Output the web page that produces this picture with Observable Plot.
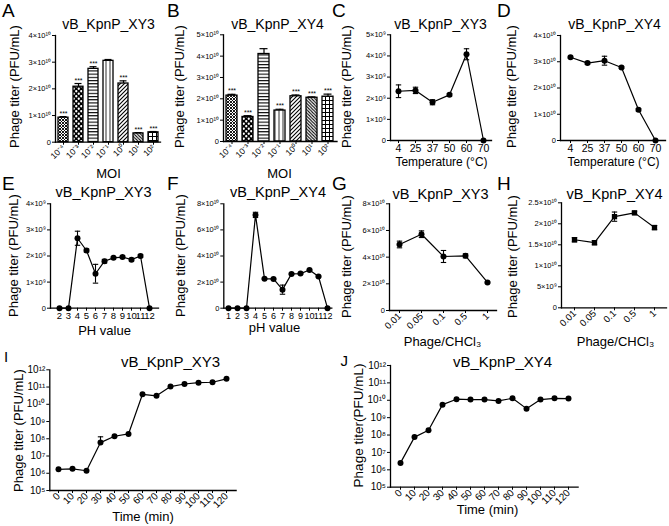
<!DOCTYPE html>
<html><head><meta charset="utf-8">
<script src="https://cdn.jsdelivr.net/npm/d3@7"></script>
<script src="https://cdn.jsdelivr.net/npm/@observablehq/plot@0.6"></script>
<style>
body{margin:0;background:#fff;}
#fig{position:relative;width:669px;height:526px;overflow:hidden;background:#fff;}
</style></head><body>
<svg width="0" height="0" style="position:absolute;left:0;top:0">
<defs>
<pattern id="pat0" patternUnits="userSpaceOnUse" width="3" height="3"><rect width="3" height="3" fill="#fff"/><path d="M0,0L3,3M3,0L0,3" stroke="#000" stroke-width="0.9"/></pattern>
<pattern id="pat1" patternUnits="userSpaceOnUse" width="5" height="5"><rect width="5" height="5" fill="#000"/><circle cx="1.25" cy="1.25" r="1.15" fill="#fff"/><circle cx="3.75" cy="3.75" r="1.15" fill="#fff"/></pattern>
<pattern id="pat2" patternUnits="userSpaceOnUse" width="4" height="3.2"><rect width="4" height="3.2" fill="#fff"/><rect width="4" height="1.1" fill="#000"/></pattern>
<pattern id="pat3" patternUnits="userSpaceOnUse" width="4" height="4"><rect width="4" height="4" fill="#fff"/><rect x="1.6" width="0.8" height="4" fill="#000"/></pattern>
<pattern id="pat4" patternUnits="userSpaceOnUse" width="4" height="4"><rect width="4" height="4" fill="#fff"/><path d="M0,4L4,0M-1,1L1,-1M3,5L5,3" stroke="#000" stroke-width="1.1"/></pattern>
<pattern id="pat5" patternUnits="userSpaceOnUse" width="3.2" height="3.2"><rect width="3.2" height="3.2" fill="#fff"/><path d="M0,0L3.2,3.2M-1,2.2L1,4.2M2.2,-1L4.2,1" stroke="#000" stroke-width="1"/></pattern>
<pattern id="pat6" patternUnits="userSpaceOnUse" width="4" height="4"><rect width="4" height="4" fill="#fff"/><path d="M0,0.5H4M0.5,0V4" stroke="#000" stroke-width="1"/></pattern>
</defs></svg>
<div id="fig"></div>
<script>
// ---------- data ----------
const moiExp = [-4, -3, -2, -1, 0, 1, 2];
const titerA = [0.92e10, 2.08e10, 2.75e10, 3.05e10, 2.2e10, 0.33e10, 0.37e10];
const errA   = [0.04e10, 0.12e10, 0.08e10, 0.05e10, 0.1e10, 0.03e10, 0.03e10];
const sigA   = ["***", "***", "***", "", "***", "***", "***"];
const titerB = [2.15e10, 1.15e10, 4.1e10, 1.45e10, 2.12e10, 2.05e10, 2.1e10];
const errB   = [0.06e10, 0.06e10, 0.25e10, 0.06e10, 0.06e10, 0.04e10, 0.12e10];
const sigB   = ["***", "***", "", "***", "***", "***", "***"];

const temps  = [4, 25, 37, 50, 60, 70];
const titerC = [2.33e9, 2.37e9, 1.81e9, 2.16e9, 4.08e9, 0];
const errC   = [0.3e9, 0.15e9, 0.12e9, 0.06e9, 0.26e9, 0];
const titerD = [3.17e10, 2.95e10, 3.04e10, 2.78e10, 1.17e10, 0];
const errD   = [0.04e10, 0.05e10, 0.17e10, 0.04e10, 0.05e10, 0];

const phE    = [2, 3, 4, 5, 6, 7, 8, 9, 10, 11, 12];
const titerE = [0, 0, 2.68e9, 2.21e9, 1.32e9, 1.8e9, 1.93e9, 1.96e9, 1.86e9, 2.0e9, 0];
const errE   = [0, 0, 0.27e9, 0.06e9, 0.36e9, 0.07e9, 0.04e9, 0.04e9, 0.05e9, 0.06e9, 0];
const phF    = [1, 2, 3, 4, 5, 6, 7, 8, 9, 10, 11, 12];
const titerF = [0, 0, 0, 7.15e10, 2.25e10, 2.24e10, 1.42e10, 2.63e10, 2.65e10, 2.93e10, 2.43e10, 0];
const errF   = [0, 0, 0, 0.2e10, 0.05e10, 0.05e10, 0.35e10, 0.05e10, 0.05e10, 0.05e10, 0.05e10, 0];

const ratios = ["0.01", "0.05", "0.1", "0.5", "1"];
const titerG = [4.95e10, 5.72e10, 4.05e10, 4.1e10, 2.1e10];
const errG   = [0.25e10, 0.25e10, 0.45e10, 0.15e10, 0.05e10];
const titerH = [1.62e10, 1.55e10, 2.17e10, 2.26e10, 1.91e10];
const errH   = [0.05e10, 0.05e10, 0.11e10, 0.04e10, 0.05e10];

const times  = [0, 10, 20, 30, 40, 50, 60, 70, 80, 90, 100, 110, 120];
const titerI = [1.7e6, 1.8e6, 1.4e6, 6.0e7, 1.4e8, 1.9e8, 3.8e10, 3.1e10, 1.07e11, 1.5e11, 1.8e11, 1.9e11, 3.0e11];
const errI   = [0, 0, 0, 7e7, 0, 0, 0, 0, 0, 0, 0, 0, 0];
const titerJ = [2.5e6, 7.6e7, 1.9e8, 5.6e9, 1.15e10, 1.1e10, 1.1e10, 9.2e9, 1.3e10, 3.3e9, 1.1e10, 1.3e10, 1.25e10];
const errJ   = [0, 0, 0, 0, 0, 0, 0, 0, 0, 0, 0, 0, 0];

const ticksA = [0, 1e10, 2e10, 3e10, 4e10];
const ticksB = [0, 1e10, 2e10, 3e10, 4e10, 5e10];
const ticksC = [0, 1e9, 2e9, 3e9, 4e9, 5e9];
const ticksD = [0, 1e10, 2e10, 3e10, 4e10];
const ticksE = [0, 1e9, 2e9, 3e9, 4e9];
const ticksF = [0, 2e10, 4e10, 6e10, 8e10];
const ticksG = [0, 2e10, 4e10, 6e10, 8e10];
const ticksH = [0, 5e9, 1e10, 1.5e10, 2e10, 2.5e10];
const ticksLog = [1e5, 1e6, 1e7, 1e8, 1e9, 1e10, 1e11, 1e12];

// ---------- helpers ----------
const FONT = '"Liberation Sans", Arial, Helvetica, sans-serif';
const SUP = {"0":"⁰","1":"¹","2":"²","3":"³","4":"⁴","5":"⁵","6":"⁶","7":"⁷","8":"⁸","9":"⁹","-":"⁻"};
const sup = s => String(s).split("").map(c => SUP[c] ?? c).join("");
function sci(v) {
  if (v === 0) return "0";
  const e = Math.floor(Math.log10(v) + 1e-9);
  const m = +(v / 10 ** e).toFixed(2);
  return `${m}×10${sup(e)}`;
}
const logFmt = v => "10" + sup(Math.round(Math.log10(v)));
const T = (s, x, y, size, o = {}) => ({s, x, y, size, ...o});
const fig = document.getElementById("fig");
// horizontal cap symbol for error bars
const capSymbol = {draw(ctx, size) { const w = Math.sqrt(size / Math.PI); ctx.moveTo(-w, 0); ctx.lineTo(w, 0); }};

function panel(g, scales, marks, texts) {
  const marginLeft = g.ax - g.left, marginRight = g.left + g.w - g.xEnd;
  const marginTop = g.yTop - g.top, marginBottom = g.top + g.h - g.y0;
  const tmarks = texts.map(t => Plot.text([t.s], {
    frameAnchor: "top-left", dx: t.x - g.ax, dy: t.y - g.yTop,
    fontSize: t.size, textAnchor: t.anchor ?? "middle", lineAnchor: t.la ?? "bottom",
    rotate: t.rotate ?? 0, fill: "black"
  }));
  const svg = Plot.plot({
    width: g.w, height: g.h, marginLeft, marginRight, marginTop, marginBottom,
    style: {background: "transparent", overflow: "visible", fontFamily: FONT, color: "black"},
    ...scales,
    marks: [
      ...marks,
      Plot.frame({anchor: "left", strokeWidth: 1.3}),
      Plot.frame({anchor: "bottom", strokeWidth: 1.3}),
      ...tmarks
    ]
  });
  svg.style.position = "absolute";
  svg.style.left = g.left + "px";
  svg.style.top = g.top + "px";
  fig.appendChild(svg);
}

function barPanel(g, exps, vals, errs, sig, ticks, ymax, texts) {
  const data = exps.map((e, i) => ({e, v: vals[i], err: errs[i], s: sig[i], i}));
  panel(g, {
    x: {type: "band", domain: exps, paddingInner: 0.34, paddingOuter: 0.1},
    y: {domain: [0, ymax]},
    color: {type: "identity"}
  }, [
    Plot.barY(data, {x: "e", y: "v", fill: d => `url(#pat${d.i})`, stroke: "black", strokeWidth: 1.3}),
    Plot.ruleX(data, {x: "e", y1: "v", y2: d => d.v + d.err, strokeWidth: 1.2}),
    Plot.tickY(data, {x: "e", y: d => d.v + d.err, insetLeft: 1.5, insetRight: 1.5, strokeWidth: 1.2}),
    Plot.text(data, {x: "e", y: d => d.v + d.err, text: "s", dy: -1, fontSize: 7, lineAnchor: "bottom"}),
    Plot.axisY({ticks, tickFormat: sci, tickSize: 3, tickPadding: 1.5, fontSize: 7.5, label: null}),
    Plot.axisX({tickFormat: e => "10" + sup(e), tickRotate: -45, tickSize: 3, tickPadding: 1, fontSize: 8.5, label: null})
  ], texts);
}

function linePanel(g, xs, vals, errs, o, texts) {
  const data = xs.map((x, i) => ({x, v: vals[i], err: errs[i]}));
  const ed = data.filter(d => d.err > 0);
  const lo = d => o.upperOnly ? d.v : d.v - d.err;
  const marks = [
    Plot.line(data, {x: "x", y: "v", strokeWidth: 1.2}),
    Plot.ruleX(ed, {x: "x", y1: lo, y2: d => d.v + d.err, strokeWidth: 1.1}),
    Plot.dot(ed, {x: "x", y: d => d.v + d.err, r: 2.7, symbol: capSymbol, stroke: "black", strokeWidth: 1.1})
  ];
  if (!o.upperOnly) marks.push(Plot.dot(ed, {x: "x", y: lo, r: 2.7, symbol: capSymbol, stroke: "black", strokeWidth: 1.1}));
  marks.push(
    Plot.dot(data, {x: "x", y: "v", r: o.r ?? 3, fill: "black", symbol: o.symbol ?? "circle"}),
    Plot.axisY({ticks: o.ticks, tickFormat: o.log ? logFmt : sci, tickSize: 3, tickPadding: 1.5, fontSize: o.log ? 10 : 7.5, label: null}),
    Plot.axisX({tickRotate: o.rotate ? -45 : 0, tickSize: 3, tickPadding: o.rotate ? 1 : 1.5, fontSize: o.xFont ?? 10.5, label: null})
  );
  panel(g, {
    x: {type: "point", domain: xs, padding: o.padding},
    y: o.log ? {type: "log", domain: [1e5, 1e12]} : {domain: [0, o.ymax]}
  }, marks, texts);
}

// ---------- panels ----------
const YL = "Phage titer (PFU/mL)";

barPanel({left: 0, top: 0, w: 170, h: 180, ax: 55, xEnd: 160, yTop: 35, y0: 141.7},
  moiExp, titerA, errA, sigA, ticksA, 4e10, [
  T("A", 1.5, 16.5, 19, {anchor: "start"}),
  T("vB_KpnP_XY3", 108, 28.5, 14),
  T(YL, 14, 86, 13, {rotate: -90, la: "middle"}),
  T("MOI", 108, 177.5, 13)
]);

barPanel({left: 165, top: 0, w: 172, h: 180, ax: 223, xEnd: 336.5, yTop: 34.3, y0: 141},
  moiExp, titerB, errB, sigB, ticksB, 5e10, [
  T("B", 166.5, 16.5, 19, {anchor: "start"}),
  T("vB_KpnP_XY4", 277, 28.5, 14),
  T(YL, 179, 86, 13, {rotate: -90, la: "middle"}),
  T("MOI", 279, 177.5, 13)
]);

linePanel({left: 330, top: 0, w: 170, h: 180, ax: 390, xEnd: 491, yTop: 34.3, y0: 140},
  temps, titerC, errC, {padding: 0.4, ymax: 5e9, ticks: ticksC}, [
  T("C", 331.5, 16.5, 19, {anchor: "start"}),
  T("vB_KpnP_XY3", 440, 28.5, 14),
  T(YL, 346, 86, 13, {rotate: -90, la: "middle"}),
  T("Temperature (°C)", 441, 165, 12)
]);

linePanel({left: 495, top: 0, w: 174, h: 180, ax: 560, xEnd: 665, yTop: 35, y0: 140},
  temps, titerD, errD, {padding: 0.45, ymax: 4e10, ticks: ticksD}, [
  T("D", 496.5, 16.5, 19, {anchor: "start"}),
  T("vB_KpnP_XY4", 614, 28.5, 14),
  T(YL, 511.5, 86, 13, {rotate: -90, la: "middle"}),
  T("Temperature (°C)", 613, 165, 12)
]);

linePanel({left: 0, top: 170, w: 170, h: 170, ax: 50, xEnd: 158, yTop: 203.3, y0: 307.7},
  phE, titerE, errE, {padding: 0.63, ymax: 4e9, ticks: ticksE, xFont: 9.5}, [
  T("E", 1.5, 189.5, 19, {anchor: "start"}),
  T("vB_KpnP_XY3", 103, 196.7, 14.5),
  T(YL, 13.5, 255, 13, {rotate: -90, la: "middle"}),
  T("PH value", 104, 334, 13)
]);

linePanel({left: 165, top: 170, w: 170, h: 170, ax: 223.3, xEnd: 331.3, yTop: 203.3, y0: 307.7},
  phF, titerF, errF, {padding: 0.5, ymax: 8e10, ticks: ticksF, xFont: 9}, [
  T("F", 166.5, 189.5, 19, {anchor: "start"}),
  T("vB_KpnP_XY4", 277.5, 196.7, 14.5),
  T(YL, 180.5, 255, 13, {rotate: -90, la: "middle"}),
  T("pH value", 274, 331, 13)
]);

linePanel({left: 330, top: 170, w: 170, h: 180, ax: 389, xEnd: 496, yTop: 203.3, y0: 310},
  ratios, titerG, errG, {padding: 0.4, ymax: 8e10, ticks: ticksG, rotate: true, xFont: 9.5}, [
  T("G", 331.5, 189.5, 19, {anchor: "start"}),
  T("vB_KpnP_XY3", 440, 198, 14.5),
  T(YL, 346, 256, 13, {rotate: -90, la: "middle"}),
  T("Phage/CHCl₃", 442, 345, 13)
]);

linePanel({left: 495, top: 170, w: 174, h: 180, ax: 561, xEnd: 666, yTop: 202.3, y0: 307.3},
  ratios, titerH, errH, {padding: 0.55, ymax: 2.5e10, ticks: ticksH, rotate: true, xFont: 9.5, symbol: "square", r: 3}, [
  T("H", 496.5, 189.5, 19, {anchor: "start"}),
  T("vB_KpnP_XY4", 614, 198, 14.5),
  T(YL, 512, 256, 13, {rotate: -90, la: "middle"}),
  T("Phage/CHCl₃", 615, 345, 13)
]);

linePanel({left: 0, top: 340, w: 335, h: 186, ax: 49.3, xEnd: 235.6, yTop: 369.3, y0: 490},
  times, titerI, errI, {padding: 0.64, log: true, ticks: ticksLog, rotate: true, xFont: 10, upperOnly: true}, [
  T("I", 3.5, 361, 15, {anchor: "start"}),
  T("vB_KpnP_XY3", 170, 366, 15),
  T(YL, 18.5, 430, 13, {rotate: -90, la: "middle"}),
  T("Time (min)", 142.5, 520, 13)
]);

linePanel({left: 330, top: 340, w: 339, h: 186, ax: 390, xEnd: 577.6, yTop: 365, y0: 486.7},
  times, titerJ, errJ, {padding: 0.66, log: true, ticks: ticksLog, rotate: true, xFont: 10}, [
  T("J", 340, 365, 15, {anchor: "start"}),
  T("vB_KpnP_XY4", 502, 366, 15),
  T("Phage titer(PFU/mL)", 358, 425, 13.5, {rotate: -90, la: "middle"}),
  T("Time (min)", 487, 513, 13)
]);
</script>
</body></html>
